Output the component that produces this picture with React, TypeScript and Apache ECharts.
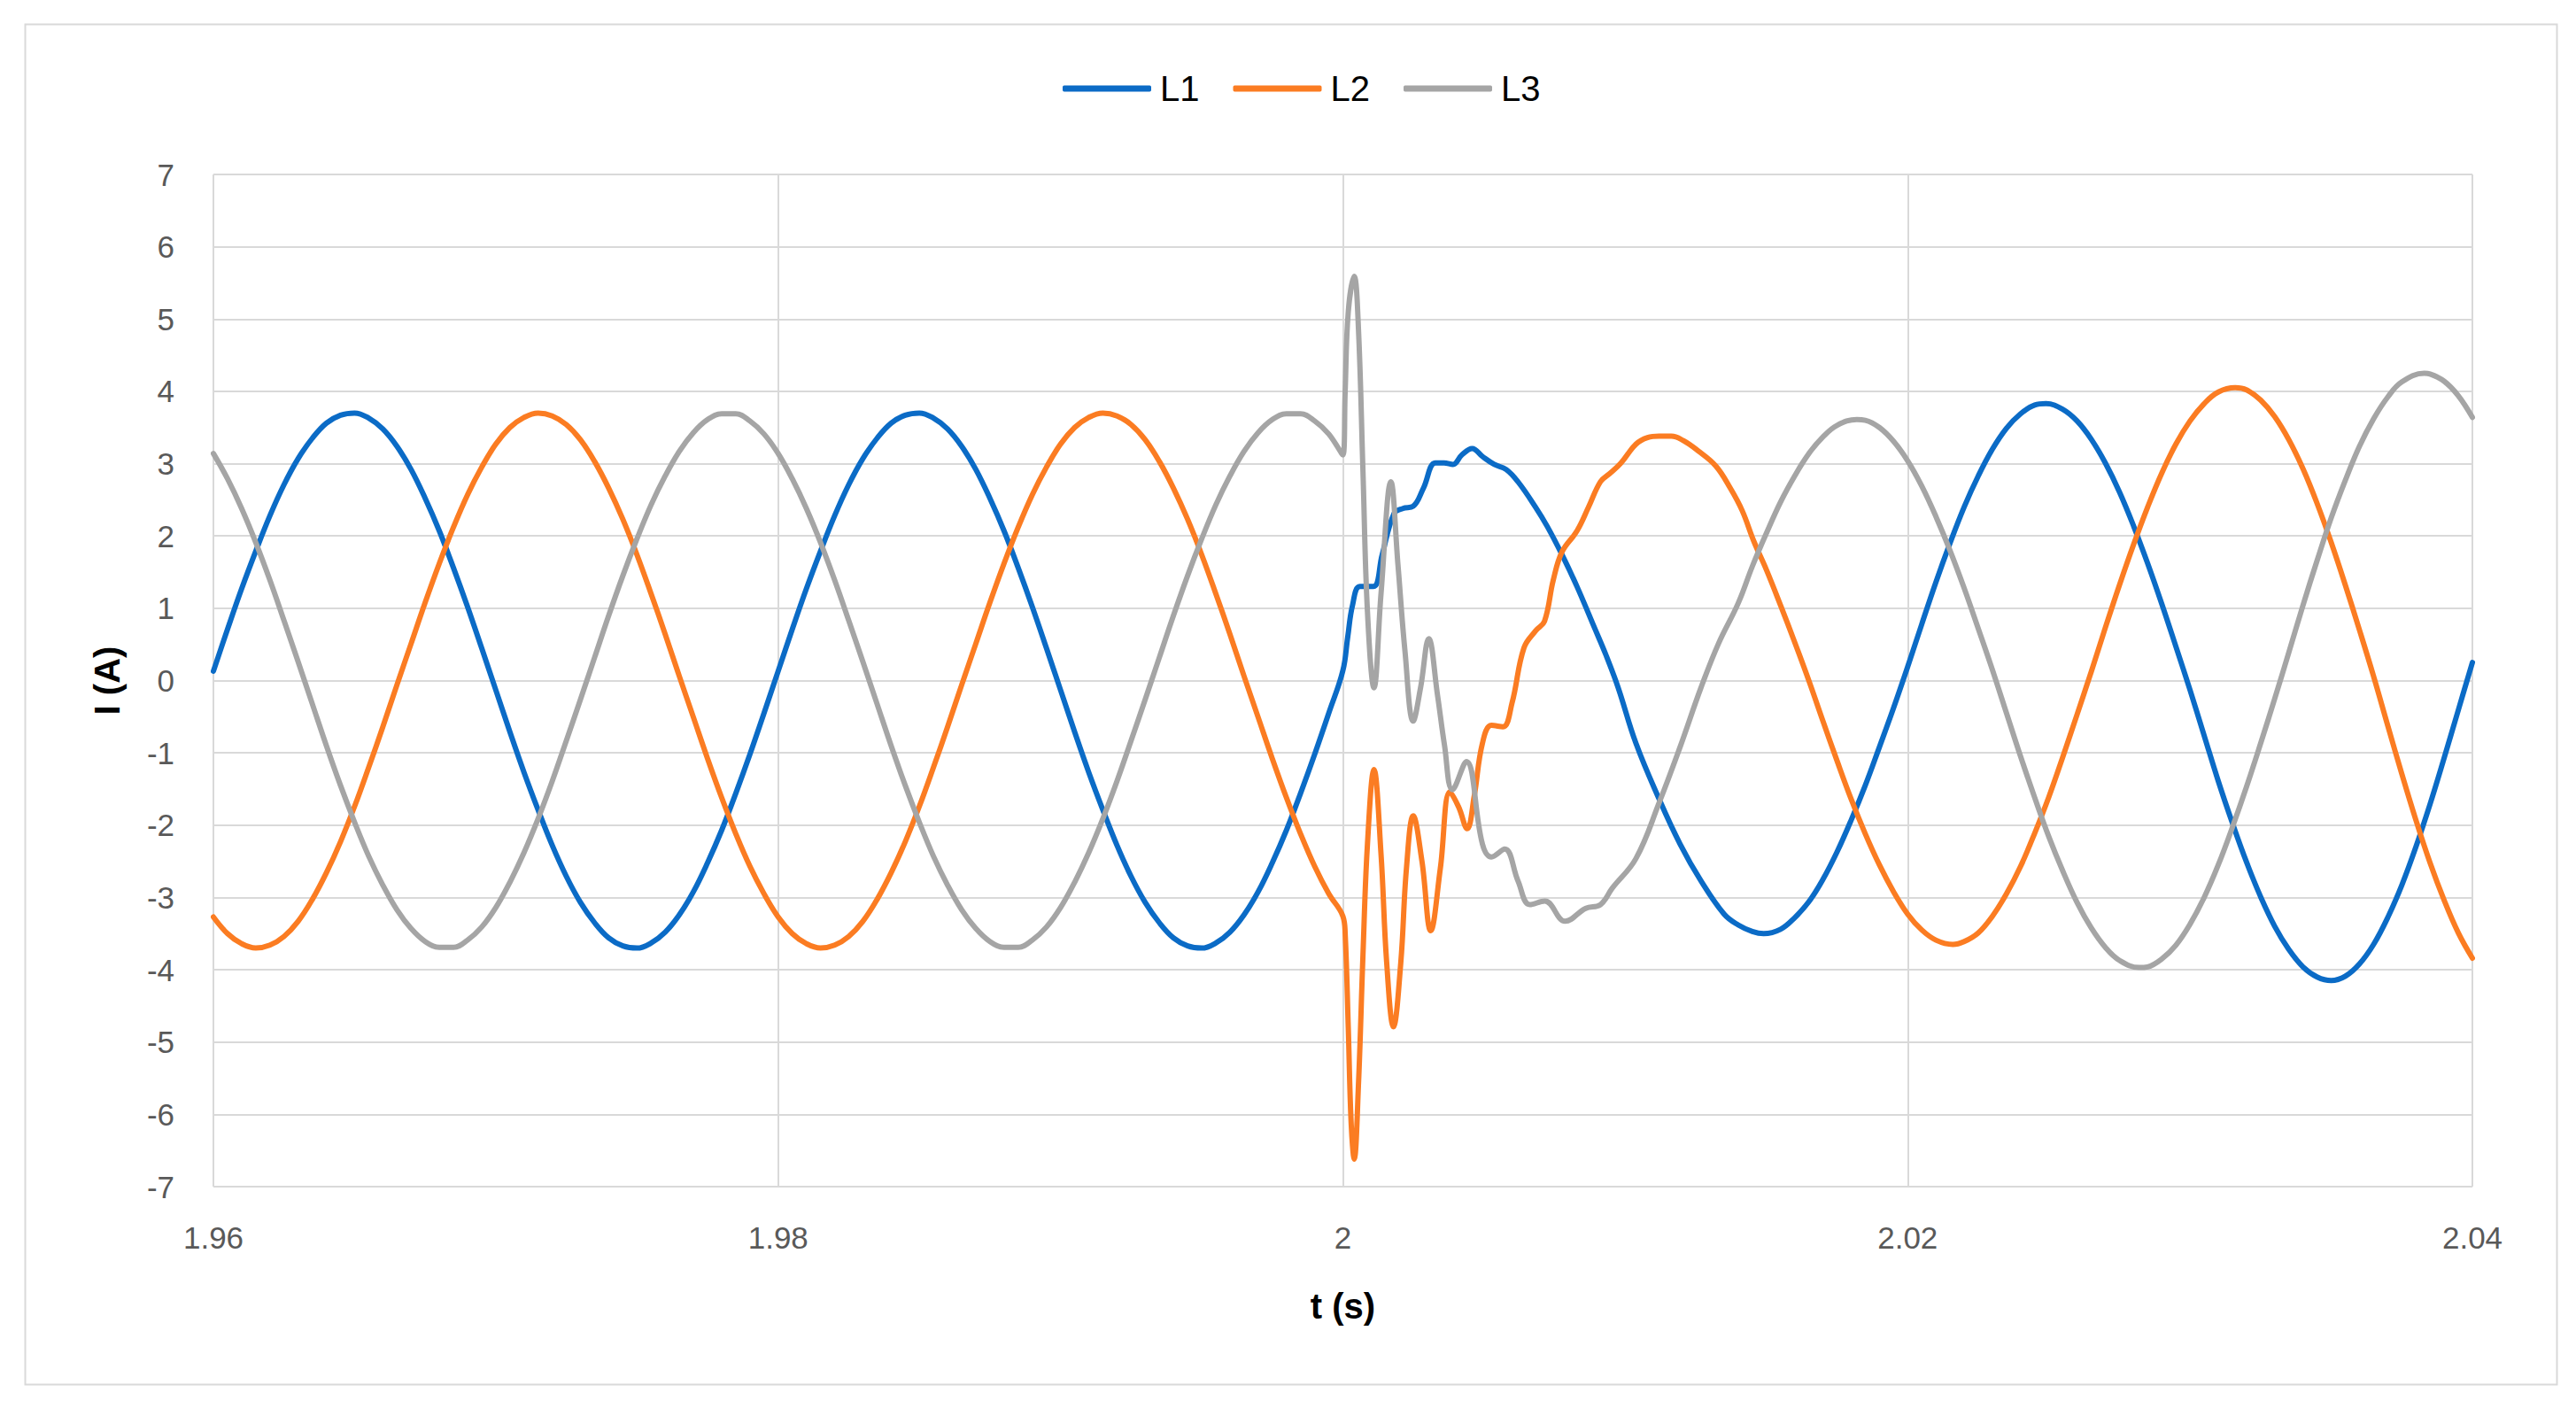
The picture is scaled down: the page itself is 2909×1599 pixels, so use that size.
import React, { useEffect, useRef } from "react";
import * as echarts from "echarts";

// ---- Data ----
const seriesNames = ["L1", "L2", "L3"];
const xTicks = [1.96, 1.98, 2.0, 2.02, 2.04];

// pre-fault samples, 0.5 ms step, t = 1.960 ... 2.000 s
const preTime = [
  1.96, 1.9605, 1.961, 1.9615, 1.962, 1.9625, 1.963, 1.9635, 1.964, 1.9645,
  1.965, 1.9655, 1.966, 1.9665, 1.967, 1.9675, 1.968, 1.9685, 1.969, 1.9695,
  1.97, 1.9705, 1.971, 1.9715, 1.972, 1.9725, 1.973, 1.9735, 1.974, 1.9745,
  1.975, 1.9755, 1.976, 1.9765, 1.977, 1.9775, 1.978, 1.9785, 1.979, 1.9795,
  1.98, 1.9805, 1.981, 1.9815, 1.982, 1.9825, 1.983, 1.9835, 1.984, 1.9845,
  1.985, 1.9855, 1.986, 1.9865, 1.987, 1.9875, 1.988, 1.9885, 1.989, 1.9895,
  1.99, 1.9905, 1.991, 1.9915, 1.992, 1.9925, 1.993, 1.9935, 1.994, 1.9945,
  1.995, 1.9955, 1.996, 1.9965, 1.997, 1.9975, 1.998, 1.9985, 1.999, 1.9995,
  2.0,
];
const preL1 = [
  0.13, 0.71, 1.27, 1.79, 2.28, 2.71, 3.07, 3.35, 3.56, 3.67,
  3.7, 3.63, 3.48, 3.24, 2.92, 2.52, 2.07, 1.56, 1.02, 0.45,
  -0.13, -0.71, -1.27, -1.79, -2.28, -2.71, -3.07, -3.35, -3.56, -3.67,
  -3.7, -3.63, -3.48, -3.24, -2.92, -2.52, -2.07, -1.56, -1.02, -0.45,
  0.13, 0.71, 1.27, 1.79, 2.28, 2.71, 3.07, 3.35, 3.56, 3.67,
  3.7, 3.63, 3.48, 3.24, 2.92, 2.52, 2.07, 1.56, 1.02, 0.45,
  -0.13, -0.71, -1.27, -1.79, -2.28, -2.71, -3.07, -3.35, -3.56, -3.67,
  -3.7, -3.63, -3.48, -3.24, -2.92, -2.52, -2.07, -1.56, -1.02, -0.45,
  0.14,
];
const preL2 = [
  -3.27, -3.5, -3.64, -3.7, -3.66, -3.54, -3.33, -3.03, -2.66, -2.23,
  -1.74, -1.2, -0.64, -0.06, 0.51, 1.08, 1.62, 2.12, 2.57, 2.95,
  3.27, 3.5, 3.64, 3.7, 3.66, 3.54, 3.33, 3.03, 2.66, 2.23,
  1.74, 1.2, 0.64, 0.06, -0.51, -1.08, -1.62, -2.12, -2.57, -2.95,
  -3.27, -3.5, -3.64, -3.7, -3.66, -3.54, -3.33, -3.03, -2.66, -2.23,
  -1.74, -1.2, -0.64, -0.06, 0.51, 1.08, 1.62, 2.12, 2.57, 2.95,
  3.27, 3.5, 3.64, 3.7, 3.66, 3.54, 3.33, 3.03, 2.66, 2.23,
  1.74, 1.2, 0.64, 0.06, -0.51, -1.08, -1.62, -2.12, -2.57, -2.95,
  -3.26,
];
const preL3 = [
  3.14, 2.79, 2.38, 1.91, 1.39, 0.83, 0.26, -0.32, -0.9, -1.45,
  -1.96, -2.43, -2.83, -3.17, -3.43, -3.61, -3.69, -3.69, -3.59, -3.41,
  -3.14, -2.79, -2.38, -1.91, -1.39, -0.83, -0.26, 0.32, 0.9, 1.45,
  1.96, 2.43, 2.83, 3.17, 3.43, 3.61, 3.69, 3.69, 3.59, 3.41,
  3.14, 2.79, 2.38, 1.91, 1.39, 0.83, 0.26, -0.32, -0.9, -1.45,
  -1.96, -2.43, -2.83, -3.17, -3.43, -3.61, -3.69, -3.69, -3.59, -3.41,
  -3.14, -2.79, -2.38, -1.91, -1.39, -0.83, -0.26, 0.32, 0.9, 1.45,
  1.96, 2.43, 2.83, 3.17, 3.43, 3.61, 3.69, 3.69, 3.59, 3.41,
  3.12,
];

// post-fault samples (after t = 2.000 s)
const l1PostTime = [
  2.00017, 2.00034, 2.0006, 2.00108, 2.00139, 2.00181, 2.00212, 2.00249, 2.00285, 2.00327,
  2.00358, 2.0039, 2.00421, 2.00458, 2.00494, 2.00536, 2.00578, 2.0062, 2.00682, 2.00724,
  2.00776, 2.00829, 2.00891, 2.00933, 2.00975, 2.01038, 2.0112, 2.01194, 2.01268, 2.0135,
  2.014, 2.0145, 2.0149, 2.0155, 2.016, 2.0165, 2.017, 2.0175, 2.018, 2.0185,
  2.019, 2.0195, 2.02, 2.0205, 2.021, 2.0215, 2.022, 2.0225, 2.023, 2.0235,
  2.024, 2.0245, 2.0249, 2.0255, 2.026, 2.0265, 2.027, 2.0275, 2.028, 2.0285,
  2.029, 2.0295, 2.03, 2.0305, 2.031, 2.0315, 2.032, 2.0325, 2.033, 2.0335,
  2.034, 2.0345, 2.035, 2.0355, 2.036, 2.0365, 2.037, 2.0375, 2.038, 2.0385,
  2.039, 2.0395, 2.04,
];
const l1Post = [
  0.6, 1.04, 1.3, 1.3, 1.74, 2.31, 2.38, 2.41, 2.66, 3.01,
  3.01, 2.99, 3.12, 3.21, 3.1, 2.99, 2.92, 2.75, 2.4, 2.13,
  1.74, 1.3, 0.73, 0.34, -0.1, -0.87, -1.64, -2.26, -2.77, -3.23,
  -3.38, -3.47, -3.5, -3.44, -3.28, -3.06, -2.75, -2.37, -1.93, -1.45,
  -0.92, -0.38, 0.19, 0.78, 1.36, 1.9, 2.4, 2.83, 3.2, 3.49,
  3.69, 3.81, 3.83, 3.75, 3.59, 3.34, 3.01, 2.61, 2.14, 1.62,
  1.06, 0.47, -0.13, -0.76, -1.39, -1.97, -2.51, -2.99, -3.4, -3.72,
  -3.96, -4.1, -4.15, -4.09, -3.92, -3.65, -3.28, -2.83, -2.3, -1.71,
  -1.07, -0.41, 0.25,
];

const l2PostTime = [
  2.00008, 2.00019, 2.00029, 2.0004, 2.00055, 2.00071, 2.00087, 2.0011, 2.00135, 2.00155,
  2.00179, 2.00205, 2.00225, 2.00249, 2.0028, 2.00311, 2.00345, 2.00379, 2.0041, 2.0044,
  2.00465, 2.00494, 2.00526, 2.00567, 2.00599, 2.00641, 2.00683, 2.00714, 2.00745, 2.00776,
  2.00829, 2.0087, 2.00912, 2.00944, 2.00985, 2.01038, 2.01079, 2.0112, 2.01163, 2.01205,
  2.01257, 2.0132, 2.01372, 2.01414, 2.01456, 2.015, 2.0155, 2.016, 2.0165, 2.017,
  2.0175, 2.018, 2.0185, 2.019, 2.0195, 2.02, 2.0205, 2.021, 2.0216, 2.022,
  2.0225, 2.023, 2.0235, 2.024, 2.0245, 2.025, 2.0255, 2.026, 2.0265, 2.027,
  2.0275, 2.028, 2.0285, 2.029, 2.0295, 2.03, 2.0305, 2.031, 2.0316, 2.032,
  2.0325, 2.033, 2.0335, 2.034, 2.0345, 2.035, 2.0355, 2.036, 2.0365, 2.037,
  2.0375, 2.038, 2.0385, 2.039, 2.0395, 2.04,
];
const l2Post = [
  -3.5, -4.8, -6.1, -6.62, -5.6, -3.8, -2.26, -1.23, -2.4, -3.9,
  -4.79, -3.9, -2.6, -1.87, -2.5, -3.46, -2.6, -1.54, -1.75, -2.05,
  -1.6, -0.87, -0.62, -0.64, -0.31, 0.45, 0.69, 0.82, 1.39, 1.78,
  2.07, 2.4, 2.75, 2.86, 3.01, 3.27, 3.36, 3.38, 3.38, 3.32,
  3.18, 2.97, 2.66, 2.35, 1.92, 1.53, 1.04, 0.53, 0.0, -0.56,
  -1.11, -1.64, -2.12, -2.55, -2.92, -3.23, -3.45, -3.59, -3.65, -3.61,
  -3.49, -3.26, -2.95, -2.57, -2.11, -1.61, -1.05, -0.47, 0.12, 0.73,
  1.32, 1.88, 2.4, 2.87, 3.27, 3.59, 3.83, 3.99, 4.05, 4.02,
  3.88, 3.65, 3.33, 2.93, 2.45, 1.91, 1.32, 0.7, 0.06, -0.62,
  -1.29, -1.93, -2.52, -3.04, -3.49, -3.84,
];

const l3PostTime = [
  2.00008, 2.00019, 2.0004, 2.00055, 2.00071, 2.00087, 2.0011, 2.00135, 2.0017, 2.00195,
  2.0022, 2.00249, 2.00275, 2.00304, 2.00335, 2.0036, 2.00388, 2.00437, 2.00494, 2.00526,
  2.00573, 2.0062, 2.00662, 2.00715, 2.00787, 2.0086, 2.00912, 2.00954, 2.01038, 2.0112,
  2.01194, 2.01268, 2.0133, 2.014, 2.0145, 2.015, 2.0155, 2.016, 2.0165, 2.017,
  2.0175, 2.0182, 2.0185, 2.019, 2.0195, 2.02, 2.0205, 2.021, 2.0215, 2.022,
  2.0225, 2.023, 2.0235, 2.024, 2.0245, 2.025, 2.0255, 2.026, 2.0265, 2.027,
  2.0275, 2.0282, 2.0285, 2.029, 2.0295, 2.03, 2.0305, 2.031, 2.0315, 2.032,
  2.0325, 2.033, 2.0335, 2.034, 2.0345, 2.035, 2.0355, 2.036, 2.0365, 2.037,
  2.0375, 2.0383, 2.0385, 2.039, 2.0395, 2.04,
];
const l3Post = [
  4.0, 5.1, 5.59, 4.87, 2.9, 0.95, -0.1, 1.2, 2.75, 1.6,
  0.4, -0.56, -0.1, 0.58, -0.2, -0.9, -1.51, -1.12, -2.26, -2.44,
  -2.33, -2.77, -3.1, -3.05, -3.33, -3.15, -3.1, -2.87, -2.46, -1.69,
  -0.92, -0.1, 0.51, 1.07, 1.58, 2.04, 2.47, 2.83, 3.14, 3.37,
  3.53, 3.61, 3.6, 3.5, 3.31, 3.04, 2.69, 2.27, 1.8, 1.28,
  0.72, 0.15, -0.45, -1.05, -1.62, -2.16, -2.64, -3.07, -3.42, -3.69,
  -3.87, -3.97, -3.96, -3.85, -3.66, -3.37, -3.0, -2.55, -2.03, -1.47,
  -0.87, -0.25, 0.39, 1.04, 1.66, 2.25, 2.77, 3.24, 3.62, 3.92,
  4.13, 4.25, 4.24, 4.14, 3.94, 3.64,
];

const colors = ["#0B6BC6", "#FB7C22", "#A5A5A5"];

function pairs(ts: number[], vs: number[]) {
  return ts.map((t, i) => [t, vs[i]]);
}

const seriesData = [
  [...pairs(preTime, preL1), ...pairs(l1PostTime, l1Post)],
  [...pairs(preTime, preL2), ...pairs(l2PostTime, l2Post)],
  [...pairs(preTime, preL3), ...pairs(l3PostTime, l3Post)],
];

const FONT = "'Liberation Sans', Arial, sans-serif";

export default function App() {
  const ref = useRef<HTMLDivElement>(null);
  useEffect(() => {
    if (!ref.current) return;
    const chart = echarts.init(ref.current, undefined, { renderer: "svg" });
    chart.setOption({
      animation: false,
      backgroundColor: "#ffffff",
      textStyle: { fontFamily: FONT },
      graphic: [
        {
          type: "rect",
          left: 26,
          top: 25,
          shape: { width: 2859, height: 1536 },
          style: { fill: "none", stroke: "#d9d9d9", lineWidth: 2 },
          z: -1,
        },
      ],
      legend: {
        data: seriesNames,
        top: 75,
        left: 1195,
        icon: "roundRect",
        itemWidth: 100,
        itemHeight: 7,
        itemGap: 38,
        textStyle: { fontSize: 40, color: "#000000", fontFamily: FONT, padding: [0, 0, 0, 5] },
      },
      grid: { left: 241, right: 117, top: 197, bottom: 259, containLabel: false },
      xAxis: {
        type: "value",
        min: xTicks[0],
        max: xTicks[xTicks.length - 1],
        interval: 0.02,
        axisLine: { show: false },
        axisTick: { show: false },
        splitLine: { show: true, lineStyle: { color: "#d9d9d9", width: 2 } },
        axisLabel: {
          fontSize: 35,
          color: "#595959",
          margin: 40,
          fontFamily: FONT,
          formatter: (v: number) => String(Number(v.toFixed(2))),
        },
        name: "t (s)",
        nameLocation: "middle",
        nameGap: 115,
        nameTextStyle: { fontSize: 40, fontWeight: "bold", color: "#000000", fontFamily: FONT },
      },
      yAxis: {
        type: "value",
        min: -7,
        max: 7,
        interval: 1,
        axisLine: { show: false },
        axisTick: { show: false },
        splitLine: { show: true, lineStyle: { color: "#d9d9d9", width: 2 } },
        axisLabel: { fontSize: 35, color: "#595959", margin: 44, fontFamily: FONT },
        name: "I (A)",
        nameLocation: "middle",
        nameGap: 100,
        nameRotate: 90,
        nameTextStyle: { fontSize: 40, fontWeight: "bold", color: "#000000", fontFamily: FONT },
      },
      series: seriesNames.map((name, i) => ({
        name,
        type: "line",
        data: seriesData[i],
        showSymbol: false,
        smooth: 0.4,
        color: colors[i],
        lineStyle: { width: 6, color: colors[i], cap: "round", join: "round" },
      })),
    });
    return () => chart.dispose();
  }, []);
  return (
    <div
      ref={ref}
      style={{ position: "absolute", left: 0, top: 0, width: 2909, height: 1599, background: "#fff" }}
    />
  );
}
